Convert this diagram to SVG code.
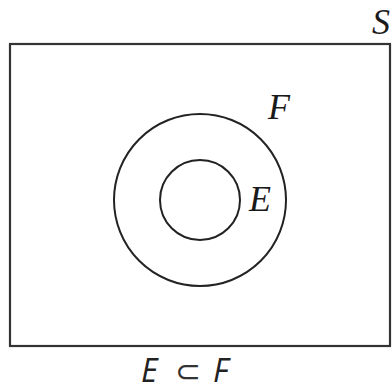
<svg xmlns="http://www.w3.org/2000/svg" width="392" height="392" viewBox="0 0 392 392">
<style>
.lbl{font-family:"Liberation Serif","Times New Roman",serif;font-style:italic;font-size:36px;fill:#1a1a1a}
.cap{font-family:"Open Sans","Liberation Sans",sans-serif;font-style:italic;font-size:32px;fill:#222}
.set{fill:none;stroke:#222;stroke-width:2}
</style>
<rect width="392" height="392" fill="#fff"/>
<g id="S">
<rect x="10" y="44" width="380" height="302" fill="none" stroke="#333" stroke-width="2.2"/>
<text class="lbl" x="372" y="34">S</text>
</g>
<g id="F">
<circle class="set" cx="200" cy="200" r="86"/>
<text class="lbl" x="268" y="119">F</text>
</g>
<g id="E">
<circle class="set" cx="200" cy="200" r="40"/>
<text class="lbl" x="249" y="211">E</text>
</g>
<g id="caption">
<text class="cap" x="141" y="382">E</text>
<text x="175" y="382" style="font-family:'DejaVu Sans',sans-serif;font-size:31px;fill:#333">⊂</text>
<text class="cap" x="213" y="382">F</text>
</g>
</svg>
